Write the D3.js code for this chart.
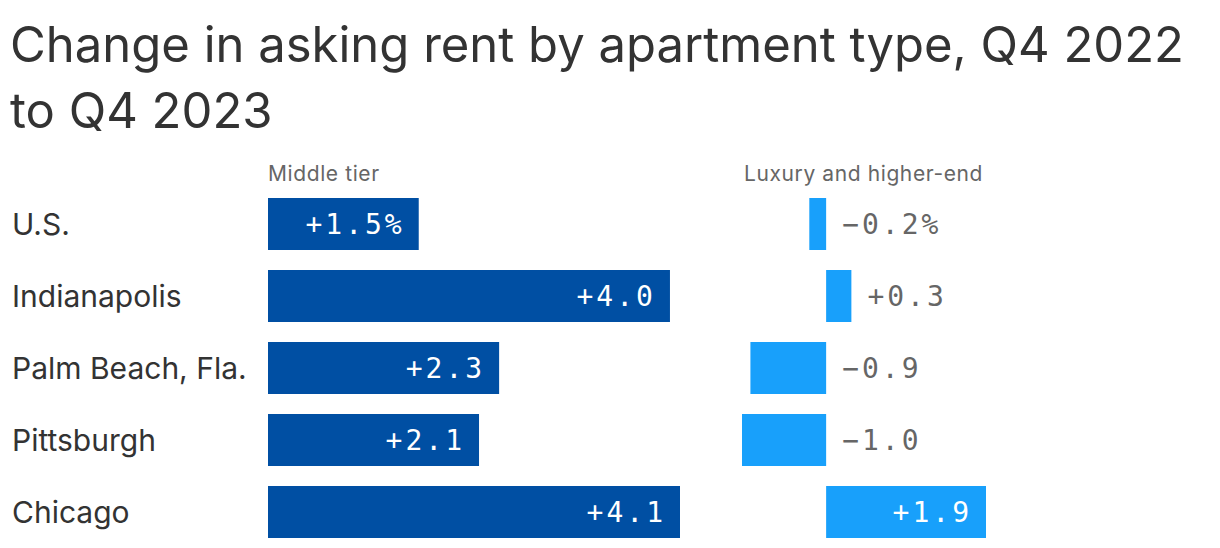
<!DOCTYPE html>
<html>
<head>
<meta charset="utf-8">
<script src="https://cdn.jsdelivr.net/npm/d3@7"></script>
<style>
  body { margin: 0; background: #fff; }
  svg { display: block; }
</style>
</head>
<body>
<div id="chart"></div>
<script>
// Daten
const cities = ['U.S.', 'Indianapolis', 'Palm Beach, Fla.', 'Pittsburgh', 'Chicago'];
const middleTier = [1.5, 4.0, 2.3, 2.1, 4.1];
const luxury = [-0.2, 0.3, -0.9, -1.0, 1.9];
const panelTitles = ['Middle tier', 'Luxury and higher-end'];
const titleLines = ['Change in asking rent by apartment type, Q4 2022', 'to Q4 2023'];

const W = 1220, H = 548;
const sans = 'Inter, "Noto Sans", sans-serif';
const mono = '"DejaVu Sans Mono", "Liberation Mono", monospace';

const svg = d3.select('#chart').append('svg')
  .attr('width', W).attr('height', H);

// Titel
svg.append('text')
  .attr('font-family', sans).attr('font-size', 49).attr('fill', '#333')
  .selectAll('tspan').data(titleLines).join('tspan')
  .attr('x', 10).attr('y', (d, i) => 62 + i * 66)
  .text(d => d);

// Zeilen: Schritt 72, Balkenhöhe 52
const y = d3.scaleBand().domain(cities)
  .range([198, 198 + 72 * cities.length - 20])
  .paddingInner(20 / 72).paddingOuter(0);

svg.append('g').selectAll('text').data(cities).join('text')
  .attr('x', 12).attr('y', d => y(d) + y.bandwidth() / 2)
  .attr('dy', '0.35em')
  .attr('font-family', sans).attr('font-size', 30).attr('fill', '#333')
  .text(d => d);

const fmt = (v, i) => (v >= 0 ? '+' : '\u2212') + Math.abs(v).toFixed(1) + (i === 0 ? '%' : '');

const x1 = d3.scaleLinear().domain([0, 4.1]).range([268, 680]);
const x2 = d3.scaleLinear().domain([-1.0, 1.9]).range([742, 986]);

const panels = [
  { x: x1, data: middleTier, color: '#004fa3', labelX: 268 },
  { x: x2, data: luxury, color: '#18a0fb', labelX: 744 }
];

panels.forEach((p, pi) => {
  const g = svg.append('g');
  g.append('text')
    .attr('x', p.labelX).attr('y', 181)
    .attr('font-family', sans).attr('font-size', 21).attr('letter-spacing', 0.6).attr('fill', '#666')
    .text(panelTitles[pi]);

  const rows = cities.map((c, i) => ({ c, v: p.data[i], i }));
  g.selectAll('rect').data(rows).join('rect')
    .attr('x', d => p.x(Math.min(0, d.v)))
    .attr('width', d => Math.abs(p.x(d.v) - p.x(0)))
    .attr('y', d => y(d.c))
    .attr('height', y.bandwidth())
    .attr('fill', p.color);

  g.selectAll('text.val').data(rows).join('text')
    .attr('class', 'val')
    .attr('font-family', mono).attr('font-size', 28)
    .attr('letter-spacing', 3)
    .attr('y', d => y(d.c) + y.bandwidth() / 2)
    .attr('dy', '0.35em')
    .each(function (d) {
      const wBar = Math.abs(p.x(d.v) - p.x(0));
      const inside = wBar > 110;
      const t = d3.select(this).text(fmt(d.v, d.i));
      if (inside) {
        t.attr('x', p.x(d.v) - 14).attr('text-anchor', 'end').attr('fill', '#fff');
      } else {
        t.attr('x', p.x(Math.max(0, d.v)) + 16).attr('text-anchor', 'start').attr('fill', '#666');
      }
    });
});
</script>
</body>
</html>
